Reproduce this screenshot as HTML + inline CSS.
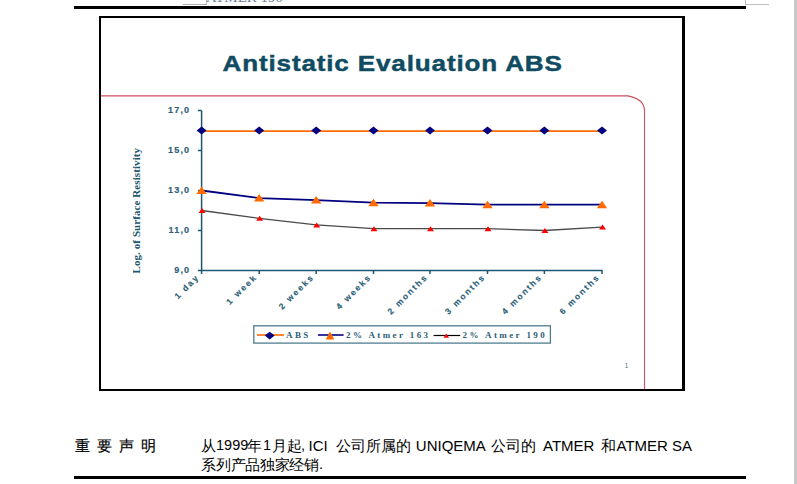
<!DOCTYPE html>
<html><head><meta charset="utf-8">
<style>
html,body{margin:0;padding:0;background:#fff;width:797px;height:484px;overflow:hidden;position:relative;font-family:"Liberation Sans",sans-serif;}
.a{position:absolute;}
</style></head><body>
<!-- right gray edge -->
<div class="a" style="left:794px;top:0;width:3px;height:484px;background:#c9c9c9"></div>
<!-- header crop marks -->
<div class="a" style="left:183px;top:4px;width:24px;height:1px;background:#b0b0b0"></div>
<div class="a" style="left:206px;top:0;width:1px;height:5px;background:#b0b0b0"></div>
<div class="a" style="left:745px;top:0;width:1px;height:5px;background:#b8b8b8"></div>
<div class="a" style="left:745px;top:4px;width:24px;height:1px;background:#c0c0c0"></div>
<div class="a" style="left:206px;top:-10px;font-family:'Liberation Serif',serif;font-size:15px;line-height:15px;color:#6d7f98;white-space:nowrap">ATMER 190</div>
<!-- thick rules -->
<div class="a" style="left:74px;top:6px;width:672px;height:3px;background:#000"></div>
<div class="a" style="left:74px;top:476px;width:672px;height:3px;background:#000"></div>
<!-- box -->
<div class="a" style="left:99px;top:16px;width:581px;height:371px;border:2px solid #000;border-right-width:3px"></div>

<svg class="a" style="left:0;top:0" width="797" height="484" viewBox="0 0 797 484">
  <!-- red rounded frame -->
  <path d="M101 95.9 H628 Q644.5 99 644.5 111 V389" fill="none" stroke="#d04f60" stroke-width="1.1"/>
  <!-- title -->
  <text transform="translate(222.5,71) scale(1.17,1)" font-family="Liberation Sans" font-weight="bold" font-size="22.3" letter-spacing="0.72" stroke="#0f4c62" stroke-width="0.45" fill="#0f4c62">Antistatic Evaluation ABS</text>
  <!-- axes -->
  <g stroke="#1d5870" stroke-width="1.5" fill="none">
    <path d="M201.6 110.5 V270.5 H602.6"/>
    <path d="M198 110.5 H201.6 M198 150.5 H201.6 M198 190.5 H201.6 M198 230.5 H201.6 M198 270.5 H201.6"/>
    <path d="M201.6 270.5 V274 M259.2 270.5 V274 M316.2 270.5 V274 M373.5 270.5 V274 M430.0 270.5 V274 M487.5 270.5 V274 M544.4 270.5 V274 M602.0 270.5 V274"/>
  </g>
  <g font-family="Liberation Sans" font-weight="bold" font-size="9" fill="#2b6077" text-anchor="end" letter-spacing="1.2" stroke="#2b6077" stroke-width="0.15">
    <text x="190.3" y="113.0">17,0</text>
    <text x="190.3" y="153.0">15,0</text>
    <text x="190.3" y="193.0">13,0</text>
    <text x="190.3" y="233.0">11,0</text>
    <text x="190.3" y="273.0">9,0</text>
  </g>
  <g font-family="Liberation Sans" font-weight="bold" font-size="8.5" fill="#2b6077" text-anchor="end" letter-spacing="1.90" stroke="#2b6077" stroke-width="0.15">
    <text transform="translate(200.0,277.5) rotate(-45)">1 day</text>
    <text transform="translate(257.6,277.5) rotate(-45)">1 week</text>
    <text transform="translate(314.6,277.5) rotate(-45)">2 weeks</text>
    <text transform="translate(371.9,277.5) rotate(-45)">4 weeks</text>
    <text transform="translate(428.4,277.5) rotate(-45)">2 months</text>
    <text transform="translate(485.9,277.5) rotate(-45)">3 months</text>
    <text transform="translate(542.8,277.5) rotate(-45)">4 months</text>
    <text transform="translate(600.4,277.5) rotate(-45)">6 months</text>
  </g>
  <text transform="translate(140,273.5) rotate(-90)" font-family="Liberation Serif" font-weight="bold" font-size="11" letter-spacing="0.08" fill="#1d5870">Log. of Surface Resistivity</text>
  <!-- series ABS -->
  <polyline points="201.6,131.2 602,131.2" fill="none" stroke="#ff6a00" stroke-width="1.8"/>
  <g fill="#000080">
    <path d="M196.6 130.4 L201.6 126.4 L206.6 130.4 L201.6 134.4Z"/>
    <path d="M254.2 130.4 L259.2 126.4 L264.2 130.4 L259.2 134.4Z"/>
    <path d="M311.2 130.4 L316.2 126.4 L321.2 130.4 L316.2 134.4Z"/>
    <path d="M368.5 130.4 L373.5 126.4 L378.5 130.4 L373.5 134.4Z"/>
    <path d="M425.0 130.4 L430.0 126.4 L435.0 130.4 L430.0 134.4Z"/>
    <path d="M482.5 130.4 L487.5 126.4 L492.5 130.4 L487.5 134.4Z"/>
    <path d="M539.4 130.4 L544.4 126.4 L549.4 130.4 L544.4 134.4Z"/>
    <path d="M597.0 130.4 L602.0 126.4 L607.0 130.4 L602.0 134.4Z"/>
  </g>
  <!-- series 163 -->
  <polyline points="201.6,190.5 259.2,198.1 316.2,200.1 373.5,202.7 430.0,203.1 487.5,204.7 544.4,204.7 602.0,204.7" fill="none" stroke="#000080" stroke-width="1.8"/>
  <g fill="#ff6a00">
    <path d="M201.6 186.5 L206.8 194.0 L196.4 194.0Z"/>
    <path d="M259.2 194.1 L264.4 201.6 L254.0 201.6Z"/>
    <path d="M316.2 196.1 L321.4 203.6 L311.0 203.6Z"/>
    <path d="M373.5 198.7 L378.7 206.2 L368.3 206.2Z"/>
    <path d="M430.0 199.1 L435.2 206.6 L424.8 206.6Z"/>
    <path d="M487.5 200.7 L492.7 208.2 L482.3 208.2Z"/>
    <path d="M544.4 200.7 L549.6 208.2 L539.2 208.2Z"/>
    <path d="M602.0 200.7 L607.2 208.2 L596.8 208.2Z"/>
  </g>
  <!-- series 190 -->
  <polyline points="201.6,210.5 259.2,218.3 316.2,224.9 373.5,228.7 430.0,228.7 487.5,228.7 544.4,230.5 602.0,227.1" fill="none" stroke="#4a4a4a" stroke-width="1.3"/>
  <g fill="#ff0000">
    <path d="M202.1 208.0 L205.6 213.0 L198.6 213.0Z"/>
    <path d="M259.7 215.8 L263.2 220.8 L256.2 220.8Z"/>
    <path d="M316.7 222.4 L320.2 227.4 L313.2 227.4Z"/>
    <path d="M374.0 226.2 L377.5 231.2 L370.5 231.2Z"/>
    <path d="M430.5 226.2 L434.0 231.2 L427.0 231.2Z"/>
    <path d="M488.0 226.2 L491.5 231.2 L484.5 231.2Z"/>
    <path d="M544.9 228.0 L548.4 233.0 L541.4 233.0Z"/>
    <path d="M602.5 224.6 L606.0 229.6 L599.0 229.6Z"/>
  </g>
  <!-- legend -->
  <rect x="253.8" y="325.8" width="296.6" height="17.3" fill="none" stroke="#4f7d90" stroke-width="1.3"/>
  <path d="M257 335 H284" stroke="#ff6a00" stroke-width="1.6"/>
  <path d="M264.8 335.5 L269.7 331.8 L274.6 335.5 L269.7 339.4Z" fill="#000080"/>
  <path d="M318 335 H343.6" stroke="#000080" stroke-width="1.6"/>
  <path d="M330 331.5 L334.3 339.6 L325.8 339.6Z" fill="#ff6a00"/>
  <path d="M433.6 335.5 H460.2" stroke="#000" stroke-width="1.2"/>
  <path d="M446.3 333.5 L449 337.8 L443.6 337.8Z" fill="#ff0000"/>
  <g font-family="Liberation Serif" font-weight="bold" font-size="7.5" fill="#2b6077" letter-spacing="2">
    <text transform="translate(286,338) scale(1.2,1)">ABS</text>
    <text transform="translate(346,338) scale(1.2,1)">2% Atmer 163</text>
    <text transform="translate(462.6,338) scale(1.2,1)">2% Atmer 190</text>
  </g>
  <text x="624.5" y="368" font-family="Liberation Sans" font-size="7" fill="#5d7f90">1</text>
</svg>

<!-- bottom text -->
<div class="a" style="left:75px;top:436px;font-size:15px;line-height:19px;white-space:nowrap;letter-spacing:7px;color:#000;-webkit-text-stroke:0.2px #000">重要声明</div>
<div class="a" style="left:0;top:436px;width:797px;height:40px;font-size:15px;line-height:19px;white-space:nowrap;color:#000">
<span class="a" style="left:201px">从</span>
<span class="a" style="left:216px;font-size:14.5px">1999</span>
<span class="a" style="left:247px">年</span>
<span class="a" style="left:263px;font-size:14.5px">1</span>
<span class="a" style="left:271.5px">月</span>
<span class="a" style="left:286.5px">起</span>
<span class="a" style="left:301px;font-size:14.5px">,</span>
<span class="a" style="left:308.5px;font-size:15px">ICI</span>
<span class="a" style="left:335.5px">公司所属的</span>
<span class="a" style="left:415.8px;font-size:15px">UNIQEMA</span>
<span class="a" style="left:491px">公司的</span>
<span class="a" style="left:543px;font-size:15px">ATMER</span>
<span class="a" style="left:601px">和</span>
<span class="a" style="left:616.5px;font-size:15px">ATMER SA</span>
<span class="a" style="left:201.3px;top:19px;letter-spacing:-0.35px">系列产品独家经销</span>
<span class="a" style="left:319px;top:19px;font-size:14.5px">.</span>
</div>
</body></html>
